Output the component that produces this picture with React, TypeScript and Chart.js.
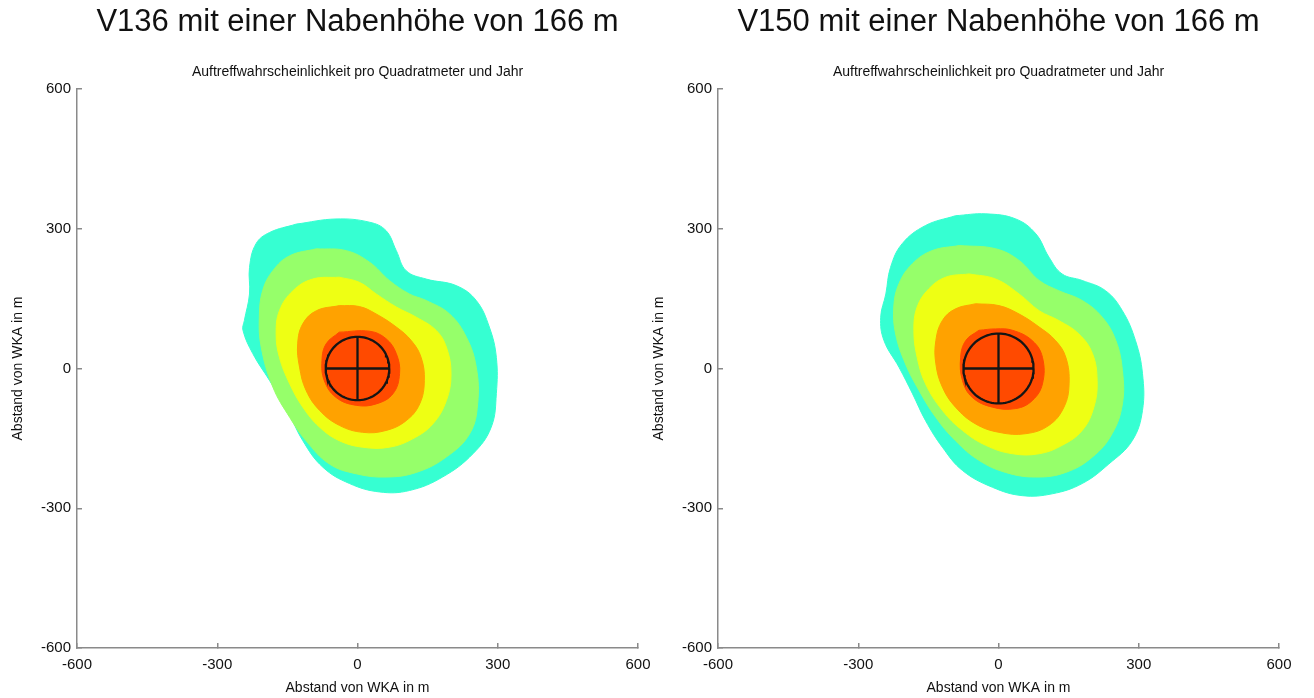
import React, { useEffect, useRef } from "react";
import { Chart, registerables } from "chart.js";

Chart.register(...registerables);

// ---------- text ----------
const TITLES = ["V136 mit einer Nabenhöhe von 166 m", "V150 mit einer Nabenhöhe von 166 m"];
const SUBTITLE = "Auftreffwahrscheinlichkeit pro Quadratmeter und Jahr";
const AXIS_TITLE = "Abstand von WKA in m";

// ---------- axes ----------
const AXIS_MIN = -600;
const AXIS_MAX = 600;
const AXIS_STEP = 300;

// rotor radius (m) of each turbine
const ROTOR_RADIUS = [68, 75];

// contour level colours (outer -> inner)
const LEVEL_COLORS = ["#36FFD2", "#96FF6A", "#EEFF14", "#FFA200", "#FF4A00"];

type Pt = [number, number];

// ---------- V136 contours (m) ----------
const V136_CYAN: Pt[] = [[-131,310],[-188,292],[-217,268],[-231,217],[-231,160],[-242,103],[-245,82],[-224,32],[-188,-26],[-153,-83],[-117,-155],[-74,-212],[-17,-247],[47,-265],[111,-262],[182,-233],[247,-183],[286,-126],[297,-54],[297,24],[282,89],[254,146],[211,178],[147,192],[104,210],[83,253],[61,296],[26,314],[-46,321]];
const V136_GREEN: Pt[] = [[-88,257],[-145,242],[-181,210],[-203,167],[-210,110],[-206,46],[-181,-40],[-145,-105],[-110,-155],[-60,-205],[-3,-226],[61,-233],[126,-223],[190,-190],[240,-140],[257,-76],[254,3],[233,67],[197,117],[147,146],[111,160],[68,189],[26,228],[-24,253]];
const V136_YELLOW: Pt[] = [[-39,196],[-96,192],[-138,167],[-167,124],[-174,74],[-167,24],[-145,-33],[-117,-83],[-81,-126],[-39,-155],[11,-169],[68,-169],[118,-151],[161,-119],[190,-69],[200,-11],[190,46],[168,82],[126,110],[83,132],[40,160],[4,185]];
const V136_ORANGE: Pt[] = [[-39,135],[-88,124],[-117,96],[-128,53],[-124,3],[-110,-47],[-81,-90],[-39,-122],[11,-137],[61,-133],[104,-112],[133,-76],[143,-26],[136,24],[115,60],[83,89],[40,117],[4,133]];
const V136_RED: Pt[] = [[-39,78],[-67,53],[-76,17],[-71,-26],[-46,-62],[-3,-79],[40,-76],[76,-54],[90,-11],[83,32],[61,64],[26,80]];

// ---------- V150 contours (m) ----------
const V150_CYAN: Pt[] = [[-92,328],[-156,307],[-206,268],[-231,217],[-241,160],[-252,110],[-245,60],[-213,3],[-184,-54],[-156,-112],[-120,-169],[-77,-219],[-13,-255],[51,-273],[115,-269],[179,-247],[236,-205],[286,-155],[308,-90],[308,-11],[293,60],[265,124],[229,167],[179,189],[136,203],[108,239],[80,289],[37,321],[-27,332]];
const V150_GREEN: Pt[] = [[-84,264],[-142,253],[-184,225],[-213,182],[-224,132],[-220,74],[-199,10],[-170,-47],[-134,-105],[-92,-155],[-42,-197],[15,-223],[80,-233],[144,-223],[201,-190],[243,-140],[265,-76],[265,-4],[251,60],[222,110],[179,146],[129,167],[87,189],[44,232],[-6,257]];
const V150_YELLOW: Pt[] = [[-63,203],[-113,196],[-149,171],[-174,132],[-181,82],[-174,24],[-156,-33],[-120,-90],[-77,-133],[-27,-165],[30,-183],[87,-183],[136,-165],[179,-133],[204,-83],[211,-26],[201,32],[172,74],[129,103],[87,124],[44,160],[-6,192]];
const V150_ORANGE: Pt[] = [[-49,139],[-92,128],[-120,103],[-134,60],[-134,10],[-120,-40],[-92,-83],[-49,-119],[1,-137],[58,-140],[108,-122],[140,-83],[151,-33],[144,24],[122,60],[87,89],[44,117],[1,135]];
const V150_RED: Pt[] = [[-42,82],[-70,60],[-81,24],[-77,-26],[-56,-62],[-13,-83],[37,-86],[72,-69],[94,-33],[94,24],[72,60],[30,82],[-6,85]];

const PANEL_LEVELS = [
  [V136_CYAN, V136_GREEN, V136_YELLOW, V136_ORANGE, V136_RED],
  [V150_CYAN, V150_GREEN, V150_YELLOW, V150_ORANGE, V150_RED],
];

const FONT = "'Liberation Sans', Arial, Helvetica, sans-serif";
const TEXT_COLOR = "#111111";
const AXIS_COLOR = "#8a8a8a";

function closed(pts: Pt[]) {
  const d = pts.map(([x, y]) => ({ x, y }));
  d.push({ x: pts[0][0], y: pts[0][1] });
  return d;
}

function circlePoints(r: number) {
  const out: { x: number; y: number }[] = [];
  const n = 96;
  for (let i = 0; i <= n; i++) {
    const a = (i / n) * Math.PI * 2;
    out.push({ x: r * Math.cos(a), y: r * Math.sin(a) });
  }
  return out;
}

function makeConfig(panel: number, padRight: number): any {
  const levels = PANEL_LEVELS[panel];
  const r = ROTOR_RADIUS[panel];
  const datasets: any[] = levels.map((pts, i) => ({
    data: closed(pts),
    backgroundColor: LEVEL_COLORS[i],
    borderColor: LEVEL_COLORS[i],
    borderWidth: 1,
    pointRadius: 0,
    fill: "shape",
    tension: 0.4,
    order: 20 - i,
  }));
  datasets.push({
    data: circlePoints(r),
    backgroundColor: LEVEL_COLORS[4],
    borderColor: "#151515",
    borderWidth: 2.3,
    pointRadius: 0,
    fill: "shape",
    tension: 0,
    order: 2,
  });
  datasets.push({
    data: [{ x: -r, y: 0 }, { x: r, y: 0 }],
    borderColor: "#151515",
    borderWidth: 2.3,
    pointRadius: 0,
    fill: false,
    order: 1,
  });
  datasets.push({
    data: [{ x: 0, y: -r }, { x: 0, y: r }],
    borderColor: "#151515",
    borderWidth: 2.3,
    pointRadius: 0,
    fill: false,
    order: 0,
  });

  const tickFont = { family: FONT, size: 15 };
  const titleFont = { family: FONT, size: 14 };
  const grid = {
    drawOnChartArea: false,
    drawTicks: true,
    tickLength: -5,
    color: AXIS_COLOR,
    lineWidth: 1.5,
  };
  const border = { display: true, color: AXIS_COLOR, width: 1.5 };

  return {
    type: "line",
    data: { datasets },
    options: {
      responsive: false,
      animation: false,
      devicePixelRatio: 1,
      events: [],
      layout: { padding: { left: 0, right: padRight, top: 0, bottom: 0 } },
      plugins: {
        legend: { display: false },
        tooltip: { enabled: false },
        title: {
          display: true,
          text: TITLES[panel],
          fullSize: false,
          color: TEXT_COLOR,
          font: { family: FONT, size: 31, weight: "normal" },
          padding: { top: 3.4, bottom: 23.1 },
        },
        subtitle: {
          display: true,
          text: SUBTITLE,
          fullSize: false,
          color: TEXT_COLOR,
          font: { family: FONT, size: 14, weight: "normal" },
          padding: { top: 0, bottom: 8.5 },
        },
      },
      scales: {
        x: {
          type: "linear",
          min: AXIS_MIN,
          max: AXIS_MAX,
          ticks: { stepSize: AXIS_STEP, color: TEXT_COLOR, font: tickFont, padding: 13, maxRotation: 0 },
          grid,
          border,
          title: {
            display: true,
            text: AXIS_TITLE,
            color: TEXT_COLOR,
            font: titleFont,
            padding: { top: 0, bottom: 1.6 },
          },
          afterFit: (s: any) => {
            s.height = 50;
            s.paddingLeft = 0;
            s.paddingRight = 0;
          },
        },
        y: {
          type: "linear",
          min: AXIS_MIN,
          max: AXIS_MAX,
          ticks: { stepSize: AXIS_STEP, color: TEXT_COLOR, font: tickFont, padding: 11 },
          grid,
          border,
          title: {
            display: true,
            text: AXIS_TITLE,
            color: TEXT_COLOR,
            font: titleFont,
            padding: { top: 9.6, bottom: 0 },
          },
          afterFit: (s: any) => {
            s.width = 77;
            s.paddingTop = 0;
            s.paddingBottom = 0;
          },
        },
      },
    },
  };
}

function Panel({ panel, left, width, padRight }: { panel: number; left: number; width: number; padRight: number }) {
  const ref = useRef<HTMLCanvasElement | null>(null);
  useEffect(() => {
    if (!ref.current) return;
    const chart = new Chart(ref.current, makeConfig(panel, padRight));
    return () => chart.destroy();
  }, [panel, padRight]);
  return (
    <canvas
      ref={ref}
      width={width}
      height={698}
      style={{ position: "absolute", left, top: 0, width, height: 698 }}
    />
  );
}

export default function App() {
  return (
    <div
      style={{
        position: "fixed",
        left: 0,
        top: 0,
        width: 1314,
        height: 698,
        background: "#ffffff",
        overflow: "hidden",
      }}
    >
      <Panel panel={0} left={0} width={657} padRight={19} />
      <Panel panel={1} left={641} width={673} padRight={35} />
    </div>
  );
}
